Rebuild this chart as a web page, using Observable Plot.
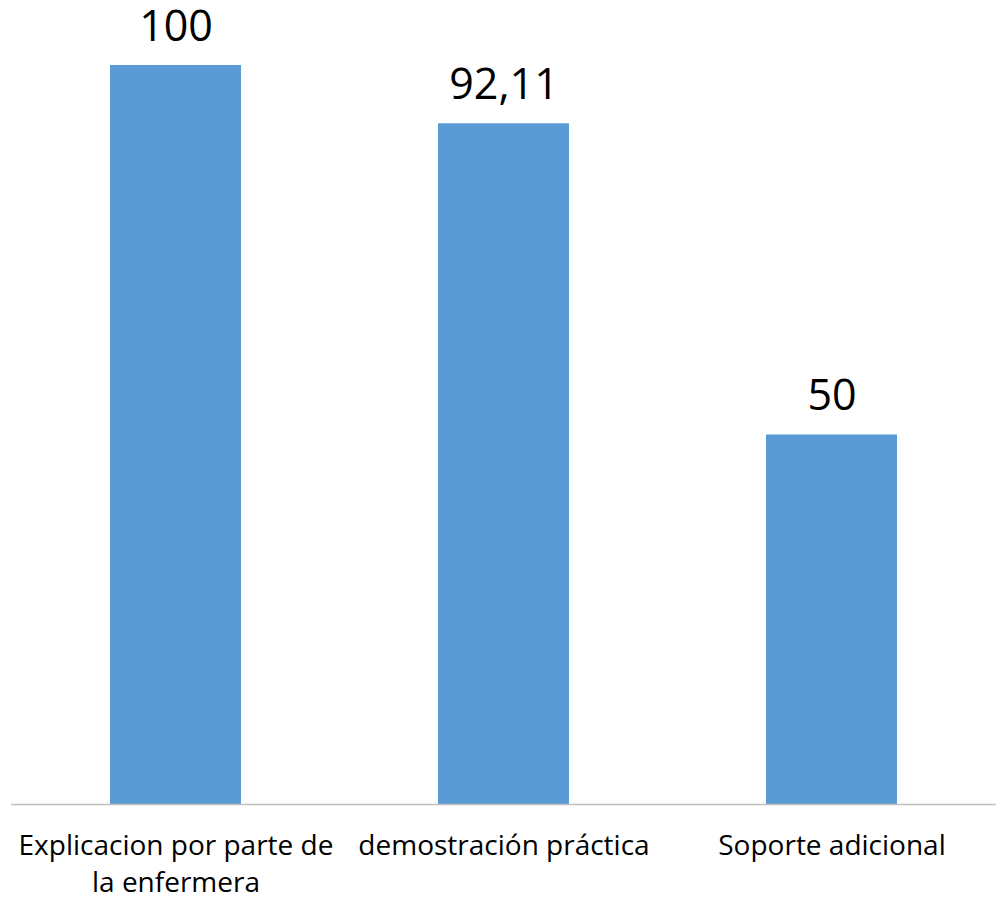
<!DOCTYPE html>
<html>
<head>
<meta charset="utf-8">
<script src="https://cdn.jsdelivr.net/npm/d3@7"></script>
<script src="https://cdn.jsdelivr.net/npm/@observablehq/plot@0.6"></script>
<style>
  html, body { margin: 0; padding: 0; background: #ffffff; }
  #chart svg { display: block; }
</style>
</head>
<body>
<div id="chart"></div>
<script>
const categories = ["Explicacion por parte de\nla enfermera", "demostración práctica", "Soporte adicional"];
const values = [100, 92.11, 50];
const valueLabels = ["100", "92,11", "50"];

const data = categories.map((c, i) => ({category: c, value: values[i], label: valueLabels[i]}));

const chart = Plot.plot({
  width: 996,
  height: 898,
  marginTop: 65,
  marginBottom: 94,
  marginLeft: 11,
  marginRight: 0,
  style: {fontFamily: "'Open Sans', sans-serif", background: "transparent", overflow: "visible"},
  x: {domain: categories, paddingInner: 0.6, paddingOuter: 0.3, axis: null},
  y: {domain: [0, 100], axis: null},
  marks: [
    Plot.barY(data, {x: "category", y: "value", fill: "#5B9BD5"}),
    Plot.ruleY([0], {stroke: "#bfbfbf", strokeWidth: 1.5}),
    Plot.text(data, {x: "category", y: "value", text: "label", lineAnchor: "bottom", dy: -25, fontSize: 43, fill: "#000"}),
    Plot.text(data, {x: "category", y: () => 0, text: "category", lineAnchor: "top", dy: 25, fontSize: 28, lineHeight: 1.3, fill: "#000"})
  ]
});
document.getElementById("chart").appendChild(chart);
</script>
</body>
</html>
